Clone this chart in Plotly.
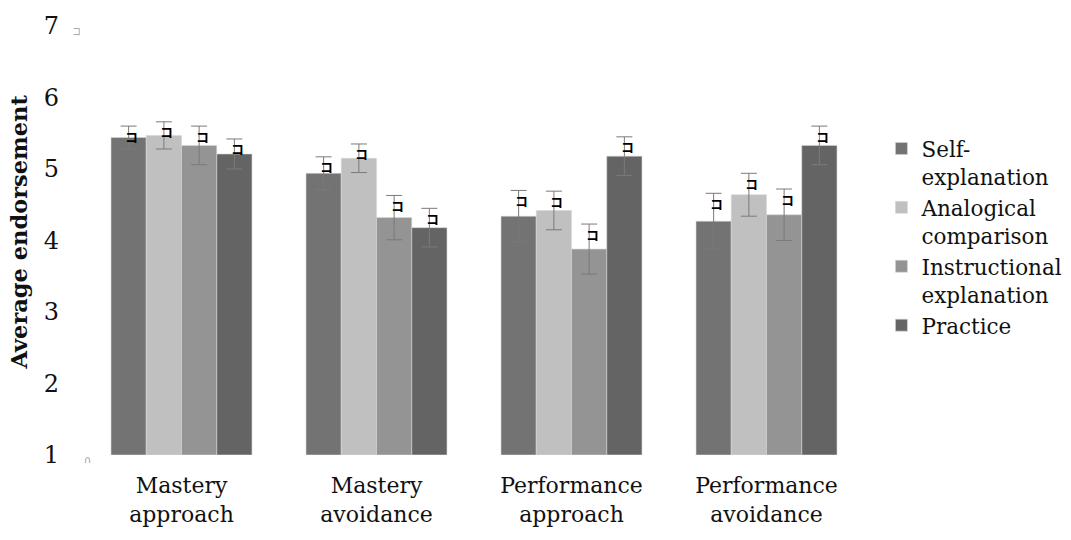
import plotly.graph_objects as go

# Goal-orientation categories (x axis) and instruction conditions (series)
categories = ["Mastery<br>approach", "Mastery<br>avoidance",
              "Performance<br>approach", "Performance<br>avoidance"]
series_names = ["Self-<br>explanation", "Analogical<br>comparison",
                "Instructional<br>explanation", "Practice"]

# Mean endorsement per condition, ordered by category
self_explanation = [5.44, 4.94, 4.34, 4.27]
analogical_comparison = [5.47, 5.15, 4.42, 4.64]
instructional_explanation = [5.33, 4.32, 3.88, 4.36]
practice = [5.21, 4.18, 5.18, 5.33]

# Standard errors, same ordering
se_self = [0.16, 0.23, 0.36, 0.39]
se_analogical = [0.19, 0.20, 0.27, 0.30]
se_instructional = [0.27, 0.31, 0.35, 0.36]
se_practice = [0.21, 0.27, 0.27, 0.27]

y_ticks = [1, 2, 3, 4, 5, 6, 7]

means = [self_explanation, analogical_comparison, instructional_explanation, practice]
errors = [se_self, se_analogical, se_instructional, se_practice]
colors = ["#737373", "#c0c0c0", "#949494", "#646464"]

FONT = "DejaVu Serif"
BARGAP = 0.277

fig = go.Figure()
for i, (name, vals, errs, col) in enumerate(zip(series_names, means, errors, colors)):
    fig.add_trace(go.Bar(
        x=categories, y=[v - 1 for v in vals], base=1, name=name,
        offsetgroup=str(i),
        marker=dict(color=col, line=dict(color="#d6d6d6", width=0.6)),
        error_y=dict(type="data", array=errs, color="#7a7a7a",
                     thickness=1, width=8),
        hoverinfo="skip",
    ))

fig.update_layout(
    width=1071, height=540,
    margin=dict(l=84, r=207, t=20, b=85),
    paper_bgcolor="white", plot_bgcolor="white",
    barmode="group", bargap=BARGAP, bargroupgap=0,
    font=dict(family=FONT, size=22, color="#111111"),
    legend=dict(
        xref="container", yref="container",
        x=0.823, xanchor="left", y=0.763, yanchor="top",
        valign="top", tracegroupgap=0,
        font=dict(family=FONT, size=21.5, color="#111111"),
        itemwidth=30,
    ),
    showlegend=True,
)

fig.update_xaxes(
    showline=False, showgrid=False, ticks="",
    ticklabelstandoff=15,
    tickfont=dict(family=FONT, size=22),
)
fig.update_yaxes(
    range=[1, 7], tickvals=y_ticks, ticktext=[str(t) for t in y_ticks],
    showline=False, showgrid=False, zeroline=False, ticks="",
    ticklabelstandoff=24,
    tickfont=dict(family=FONT, size=24),
)

# Significance glyphs hanging just below each error-bar cap;
# horizontal slot of each bar inside its category group
n_series = len(means)
slot = (1 - BARGAP) / n_series
for j, (vals, errs) in enumerate(zip(means, errors)):
    offset = (j - (n_series - 1) / 2) * slot
    for k, (v, e) in enumerate(zip(vals, errs)):
        fig.add_annotation(
            x=k + offset, xref="x", y=v + e, yref="y",
            text="<b>\u30b3</b>", showarrow=False,
            xanchor="center", yanchor="middle", xshift=3, yshift=-10,
            font=dict(family="Noto Sans CJK JP", size=13, color="#000000"),
        )

# Vertical axis title
fig.add_annotation(x=0, xref="paper", y=0.5, yref="paper",
                   text="<b>Average endorsement</b>", textangle=-90,
                   showarrow=False, xanchor="center", yanchor="middle",
                   xshift=-66, yshift=8,
                   font=dict(family=FONT, size=22.5, color="#111111"))

# Faint axis-end markers beside the top and bottom tick labels
fig.add_annotation(x=0, xref="paper", y=7, yref="y", text="\u30b3",
                   showarrow=False, xanchor="right", xshift=-1, yshift=-5,
                   font=dict(family="Noto Sans CJK JP", size=9, color="#9a9a9a"))
fig.add_annotation(x=0, xref="paper", y=1, yref="y", text="\u2229",
                   showarrow=False, xanchor="left", xshift=-2, yshift=-4,
                   font=dict(family="DejaVu Sans", size=10, color="#9a9a9a"))

fig.write_html("out.html")
